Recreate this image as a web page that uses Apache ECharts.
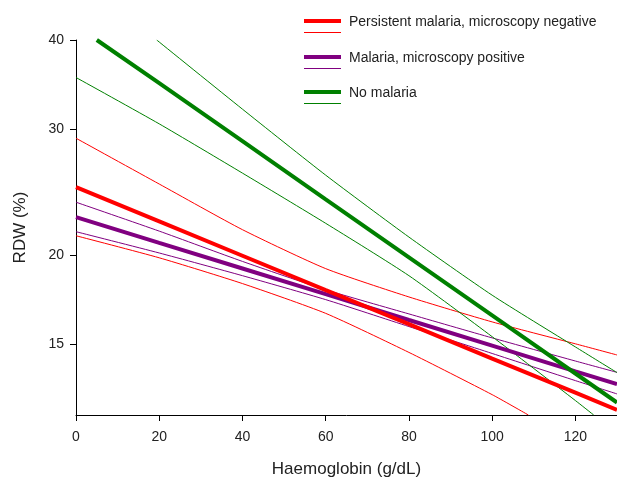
<!DOCTYPE html>
<html><head><meta charset="utf-8">
<script src="https://cdn.jsdelivr.net/npm/echarts@6/dist/echarts.min.js"></script>
<style>html,body{margin:0;padding:0;background:#fff}#c{width:617px;height:483px}</style>
</head><body><div id="c"></div>
<script>
// Haemoglobin (g/dL) positions and RDW (%) values
const hb = [0, 20, 40, 60, 80, 100, 120, 130];
const pmnFit = [24.90, 22.30, 19.96, 17.87, 16.01, 14.33, 12.84, 12.15];
const pmnUpper = [29.15, 25.15, 21.71, 19.15, 17.48, 16.13, 15.03, 14.50];
const pmnLowerX = [0, 20, 40, 60, 80, 100, 108.7];
const pmnLower = [21.29, 19.83, 18.25, 16.58, 14.62, 12.76, 11.95];
const mpFit = [22.61, 20.81, 19.16, 17.64, 16.23, 14.94, 13.75, 13.20];
const mpUpper = [23.72, 21.61, 19.60, 17.89, 16.55, 15.32, 14.22, 13.71];
const mpLower = [21.57, 20.14, 18.72, 17.33, 15.89, 14.57, 13.35, 12.79];
const nmFitX = [5, 20, 40, 60, 80, 100, 120, 130];
const nmFit = [40.0, 34.80, 28.87, 23.94, 19.86, 16.47, 13.66, 12.44];
const nmUpperX = [19.4, 40, 60, 80, 100, 120, 130];
const nmUpper = [40.0, 32.01, 25.88, 21.20, 17.58, 14.88, 13.70];
const nmLowerX = [0, 20, 40, 60, 80, 100, 120, 124.4];
const nmLower = [35.45, 30.53, 26.05, 22.16, 18.72, 15.38, 12.52, 11.95];
const yTicks = [15, 20, 30, 40];
const xTicks = [0, 20, 40, 60, 80, 100, 120];
const names = ['Persistent malaria, microscopy negative', 'Malaria, microscopy positive', 'No malaria'];
const yMin = 11.95, yMax = 40;

const RED = '#ff0000', PURPLE = '#800080', GREEN = '#008000';
const COLORS = [RED, PURPLE, GREEN];
const FONT = 'Liberation Sans, Arial, Helvetica, sans-serif';

function pts(xs, ys) { return xs.map((x, i) => [x, Math.log10(ys[i])]); }
function line(name, data, color, width, z, smooth) {
  return { name: name, type: 'line', data: data, showSymbol: false, symbol: 'none',
    smooth: smooth ? 0.2 : false,
    lineStyle: { color: color, width: width }, itemStyle: { color: color },
    z: z, silent: true, clip: true };
}

// legend drawn as graphic: thick line = fit, thin line = confidence band
const legendGraphic = [];
names.forEach((n, i) => {
  const top = [19, 55, 90][i];
  legendGraphic.push({ type: 'rect', left: 304, top: top, shape: { width: 37, height: 4 }, style: { fill: COLORS[i] }, silent: true });
  legendGraphic.push({ type: 'rect', left: 304, top: top + 13, shape: { width: 37, height: 1 }, style: { fill: COLORS[i] }, silent: true });
  legendGraphic.push({ type: 'text', x: 349, y: top + 3, style: { text: n, fill: '#222', font: '14px ' + FONT, textVerticalAlign: 'middle', verticalAlign: 'middle', textAlign: 'left' }, silent: true });
});

const chart = echarts.init(document.getElementById('c'), null, { renderer: 'canvas' });
chart.setOption({
  animation: false,
  backgroundColor: '#fff',
  grid: { left: 76, right: 0, top: 40, bottom: 65 },
  graphic: legendGraphic,
  xAxis: {
    type: 'value', min: 0, max: 130,
    axisLine: { onZero: false, lineStyle: { color: '#000', width: 1 } },
    axisTick: { customValues: xTicks, length: 6, lineStyle: { color: '#000' } },
    axisLabel: { customValues: xTicks, margin: 15, fontSize: 14, color: '#222', fontFamily: FONT },
    splitLine: { show: false },
    name: 'Haemoglobin (g/dL)', nameLocation: 'middle', nameGap: 46,
    nameTextStyle: { fontSize: 17, color: '#222', fontFamily: FONT }
  },
  yAxis: {
    type: 'value', min: Math.log10(yMin), max: Math.log10(yMax),
    axisLine: { show: true, onZero: false, lineStyle: { color: '#000', width: 1 } },
    axisTick: { show: true, customValues: yTicks.map(v => Math.log10(v)), length: 6, lineStyle: { color: '#000' } },
    axisLabel: { customValues: yTicks.map(v => Math.log10(v)), margin: 12, fontSize: 14, color: '#222', fontFamily: FONT,
      formatter: v => String(Math.round(Math.pow(10, v))) },
    splitLine: { show: false },
    name: 'RDW (%)', nameLocation: 'middle', nameGap: 47,
    nameTextStyle: { fontSize: 17, color: '#222', fontFamily: FONT }
  },
  series: [
    line(names[0], pts(hb, pmnFit), RED, 4, 4, false),
    line(names[1], pts(hb, mpFit), PURPLE, 4, 3, false),
    line(names[2], pts(nmFitX, nmFit), GREEN, 4, 5, false),
    line('pmn upper', pts(hb, pmnUpper), RED, 1, 2, true),
    line('pmn lower', pts(pmnLowerX, pmnLower), RED, 1, 2, true),
    line('mp upper', pts(hb, mpUpper), PURPLE, 1, 2, true),
    line('mp lower', pts(hb, mpLower), PURPLE, 1, 2, true),
    line('nm upper', pts(nmUpperX, nmUpper), GREEN, 1, 2, true),
    line('nm lower', pts(nmLowerX, nmLower), GREEN, 1, 2, true)
  ]
});
</script></body></html>
